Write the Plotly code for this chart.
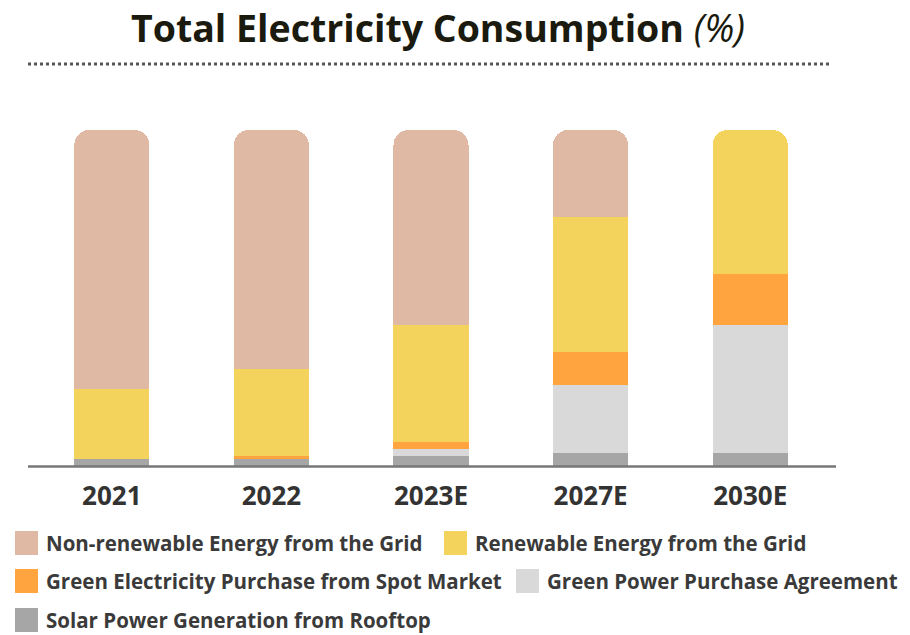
import plotly.graph_objects as go

years = ["2021", "2022", "2023E", "2027E", "2030E"]

# stacked from the bottom up, % of total consumption
solar_rooftop = [2, 2, 3, 4, 4]
green_ppa = [0, 0, 2, 20, 38]
spot_market = [0, 1, 2, 10, 15]
renewable_grid = [21, 26, 35, 40, 43]
non_renewable_grid = [77, 71, 58, 26, 0]

series = [
    ("Solar Power Generation from Rooftop", solar_rooftop, "#A6A6A6"),
    ("Green Power Purchase Agreement", green_ppa, "#D9D9D9"),
    ("Green Electricity Purchase from Spot Market", spot_market, "#FFA43F"),
    ("Renewable Energy from the Grid", renewable_grid, "#F3D35B"),
    ("Non-renewable Energy from the Grid", non_renewable_grid, "#E0B9A5"),
]

# page body adds an 8px offset, so the figure is a bit smaller than the window
OFF = 8
W, H = 910 - OFF, 635 - OFF
L, R, T, B = 32 - OFF, 910 - 830, 130 - OFF, 635 - 466
PW, PH = W - L - R, H - T - B


def px(x):
    return (x - OFF - L) / PW


def py(y):
    return (H - B - (y - OFF)) / PH


fig = go.Figure()
for name, vals, col in series:
    fig.add_trace(go.Bar(x=years, y=vals, name=name, marker_color=col,
                         marker_line_width=0, showlegend=False))

font = "Open Sans"

# baseline and dotted rule under the title
fig.add_shape(type="line", xref="paper", yref="paper", x0=px(28), x1=px(836),
              y0=py(466.5), y1=py(466.5), line=dict(color="#777777", width=2.5))
fig.add_shape(type="line", xref="paper", yref="paper", x0=px(28), x1=px(830),
              y0=py(64), y1=py(64), line=dict(color="#555555", width=3, dash="dot"))

fig.add_annotation(xref="paper", yref="paper", x=px(438), y=py(28),
                   text="<b>Total Electricity Consumption</b> <i>(%)</i>",
                   showarrow=False, xanchor="center", yanchor="middle",
                   font=dict(family=font, size=37.5, color="#1a1a0e"))

# custom legend
legend_items = [
    ("Non-renewable Energy from the Grid", "#E0B9A5", 15, 543),
    ("Renewable Energy from the Grid", "#F3D35B", 444, 543),
    ("Green Electricity Purchase from Spot Market", "#FFA43F", 15, 581),
    ("Green Power Purchase Agreement", "#D9D9D9", 516, 581),
    ("Solar Power Generation from Rooftop", "#A6A6A6", 15, 620),
]
for name, col, x, y in legend_items:
    fig.add_shape(type="rect", xref="paper", yref="paper", x0=px(x), x1=px(x + 23),
                  y0=py(y - 12), y1=py(y + 12), fillcolor=col, line_width=0)
    fig.add_annotation(xref="paper", yref="paper", x=px(x + 29), y=py(y),
                       text="<b>" + name + "</b>", showarrow=False,
                       xanchor="left", yanchor="middle",
                       font=dict(family=font, size=20.5, color="#3a3a3a"))

fig.update_layout(
    width=W, height=H,
    margin=dict(l=L, r=R, t=T, b=B),
    barmode="stack", bargap=0.53, barcornerradius=15,
    plot_bgcolor="white", paper_bgcolor="white",
    xaxis=dict(showgrid=False, showline=False, ticks="", ticklabelstandoff=12,
               tickfont=dict(family=font, size=26, color="#333333", weight="bold")),
    yaxis=dict(range=[0, 100], visible=False),
)

fig.write_html("out.html")
